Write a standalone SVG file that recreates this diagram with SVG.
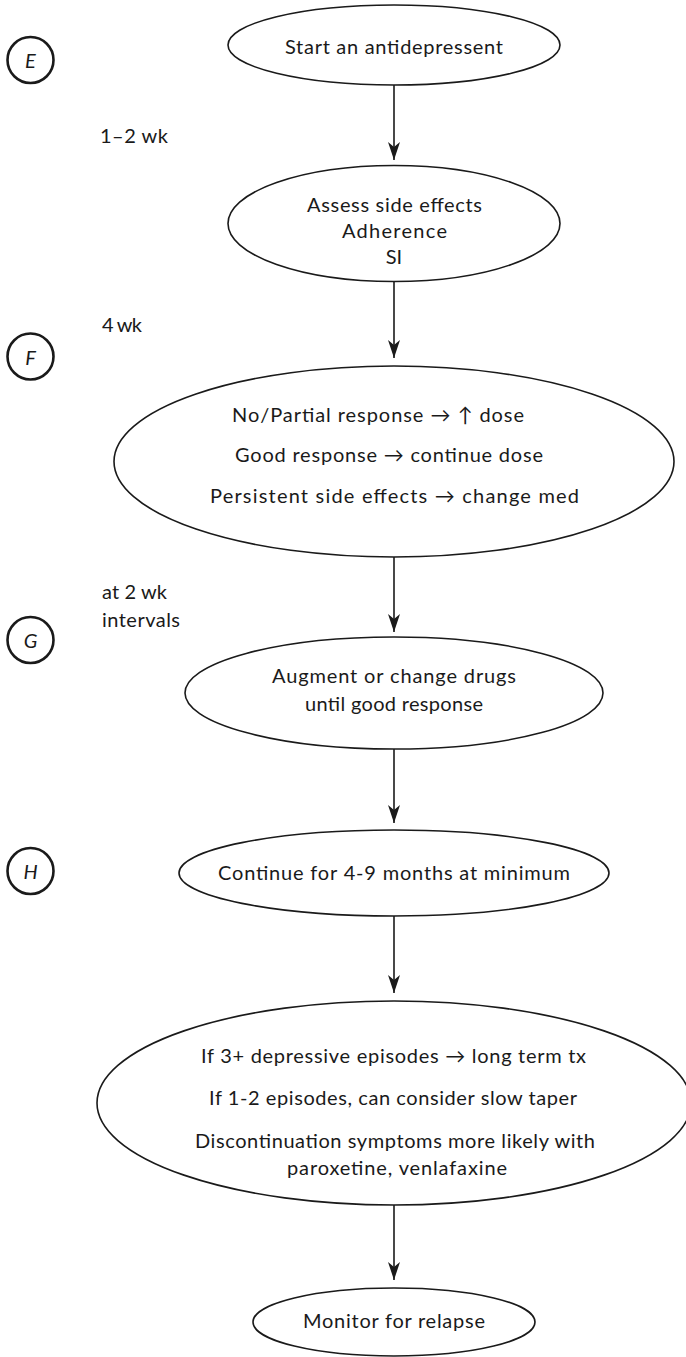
<svg xmlns="http://www.w3.org/2000/svg" width="686" height="1357" viewBox="0 0 686 1357">
  <style>
    .node { fill: #ffffff; stroke: #1a1a1a; stroke-width: 1.6; }
    .step { fill: none; stroke: #1a1a1a; stroke-width: 2.6; }
    .edge { stroke: #1a1a1a; stroke-width: 1.6; fill: none; }
    text { font-family: "Lato", "Liberation Sans", sans-serif; font-size: 20px; fill: #1a1a1a; }
    .tag { font-size: 20px; font-style: italic; text-anchor: middle; }
    .mid { text-anchor: middle; }
  </style>
  <defs>
    <marker id="arrow" markerUnits="userSpaceOnUse" markerWidth="20" markerHeight="14" refX="18" refY="7" orient="auto">
      <path d="M18,7 L0,1 L5,7 L0,13 Z" fill="#1a1a1a"/>
    </marker>
  </defs>

  <!-- step markers down the left margin -->
  <g id="step-e"><circle class="step" cx="30.5" cy="60" r="23"/><text class="tag" x="30.5" y="68">E</text></g>
  <g id="step-f"><circle class="step" cx="30.5" cy="356.5" r="23"/><text class="tag" x="30.5" y="364.5">F</text></g>
  <g id="step-g"><circle class="step" cx="30.5" cy="640" r="23"/><text class="tag" x="30.5" y="648">G</text></g>
  <g id="step-h"><circle class="step" cx="30.5" cy="871" r="23"/><text class="tag" x="30.5" y="879">H</text></g>

  <!-- timing notes -->
  <g id="timing">
    <text x="100" y="143" textLength="68">1–2 wk</text>
    <text x="102" y="332" textLength="40">4 wk</text>
    <text x="102" y="599" textLength="65">at 2 wk</text>
    <text x="102" y="627" textLength="78">intervals</text>
  </g>

  <!-- connectors -->
  <g id="connectors">
    <line class="edge" x1="394" y1="85" x2="394" y2="160" marker-end="url(#arrow)"/>
    <line class="edge" x1="394" y1="282" x2="394" y2="358" marker-end="url(#arrow)"/>
    <line class="edge" x1="394" y1="557" x2="394" y2="632" marker-end="url(#arrow)"/>
    <line class="edge" x1="394" y1="749" x2="394" y2="823" marker-end="url(#arrow)"/>
    <line class="edge" x1="394" y1="916" x2="394" y2="993" marker-end="url(#arrow)"/>
    <line class="edge" x1="394" y1="1205" x2="394" y2="1280" marker-end="url(#arrow)"/>
  </g>

  <g id="start">
    <ellipse class="node" cx="394" cy="45" rx="166" ry="40"/>
    <text x="285" y="54" textLength="218">Start an antidepressent</text>
  </g>

  <g id="assess">
    <ellipse class="node" cx="394" cy="223.5" rx="166" ry="58"/>
    <text x="307" y="212" textLength="175">Assess side effects</text>
    <text x="342" y="238" textLength="105">Adherence</text>
    <text class="mid" x="394" y="264">SI</text>
  </g>

  <g id="response">
    <ellipse class="node" cx="394" cy="461.5" rx="280" ry="95.5"/>
    <text x="232" y="422" textLength="292">No/Partial response → ↑ dose</text>
    <text x="235" y="462" textLength="308">Good response → continue dose</text>
    <text x="210" y="503" textLength="369">Persistent side effects → change med</text>
  </g>

  <g id="augment">
    <ellipse class="node" cx="394" cy="693" rx="209" ry="56"/>
    <text x="272" y="683" textLength="244">Augment or change drugs</text>
    <text x="305" y="711" textLength="178">until good response</text>
  </g>

  <g id="continue">
    <ellipse class="node" cx="394" cy="873" rx="215" ry="43"/>
    <text x="218" y="880" textLength="352">Continue for 4-9 months at minimum</text>
  </g>

  <g id="long-term">
    <ellipse class="node" cx="394" cy="1103" rx="297" ry="102"/>
    <text x="201" y="1063" textLength="385">If 3+ depressive episodes → long term tx</text>
    <text x="209" y="1105" textLength="368">If 1-2 episodes, can consider slow taper</text>
    <text x="195" y="1148" textLength="400">Discontinuation symptoms more likely with</text>
    <text x="287" y="1175" textLength="220">paroxetine, venlafaxine</text>
  </g>

  <g id="monitor">
    <ellipse class="node" cx="394" cy="1322" rx="141" ry="34"/>
    <text x="303" y="1328" textLength="182">Monitor for relapse</text>
  </g>
</svg>
